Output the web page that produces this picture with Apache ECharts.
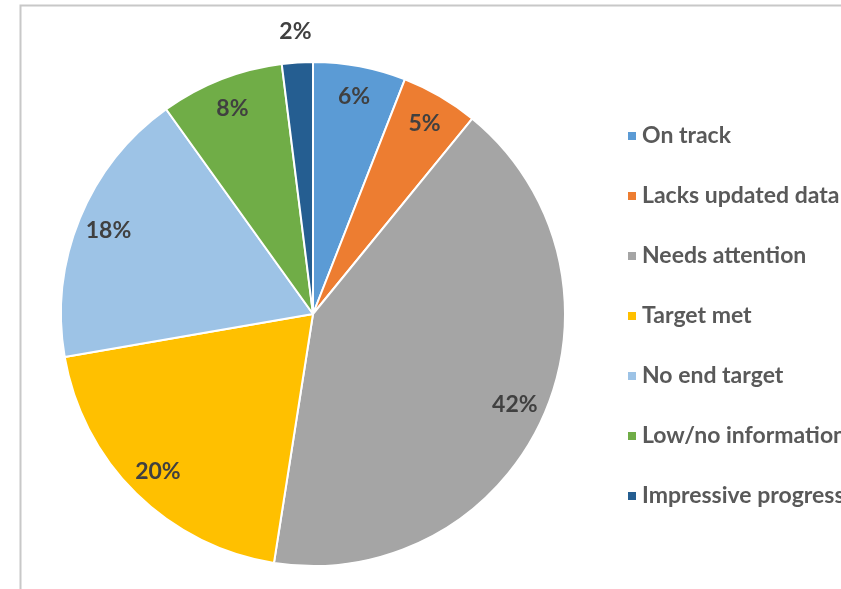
<!DOCTYPE html>
<html><head><meta charset="utf-8">
<script src="https://cdn.jsdelivr.net/npm/echarts@6/dist/echarts.min.js"></script>
<style>html,body{margin:0;padding:0;background:#fff}#c{width:841px;height:589px}</style>
</head><body><div id="c"></div>
<script>
const categories = ['On track','Lacks updated data','Needs attention','Target met','No end target','Low/no information','Impressive progress'];
const values = [6,5,42,20,18,8,2];
const colors = ['#5B9BD5','#ED7D31','#A5A5A5','#FFC000','#9DC3E6','#70AD47','#255E91'];
const outsideLabels = ['Impressive progress'];

const chart = echarts.init(document.getElementById('c'));
const center = [313, 314];
const mainData = categories.map((n,i)=>({name:n, value:values[i], itemStyle:{color:colors[i]}}));
const labelStyle = {fontFamily:'Lato', fontWeight:'bold', fontSize:23, color:'#404040'};
chart.setOption({
  animation:false,
  color: colors,
  graphic:[{type:'rect', silent:true, shape:{x:20.5,y:5.5,width:900,height:700}, style:{fill:'none', stroke:'#C8C8C8', lineWidth:2}}],
  legend:{
    orient:'vertical', left:621, top:119,
    itemWidth:10, itemHeight:10, itemGap:36, icon:'rect',
    textStyle:{fontFamily:'Lato', fontWeight:'bold', fontSize:23, color:'#595959', lineHeight:24},
    data: categories
  },
  series:[
    {type:'pie', center:center, radius:[0,252], startAngle:90, clockwise:true,
     itemStyle:{borderColor:'#fff', borderWidth:2}, label:{show:false}, labelLine:{show:false},
     silent:true, data: mainData},
    {type:'pie', center:center, radius:[184,252], startAngle:90, clockwise:true, legendHoverLink:false,
     itemStyle:{color:'transparent', borderWidth:0}, silent:true, labelLine:{show:false},
     label:{show:true, position:'inside', formatter:p=>outsideLabels.includes(p.name.trim())?'':p.value+'%', ...labelStyle},
     data: categories.map((n,i)=>({name:n+' ', value:values[i]}))},
    {type:'pie', center:center, radius:[266,294], startAngle:90, clockwise:true, legendHoverLink:false,
     itemStyle:{color:'transparent', borderWidth:0}, silent:true, labelLine:{show:false},
     label:{show:true, position:'inside', formatter:p=>outsideLabels.includes(p.name.trim())?p.value+'%':'', ...labelStyle},
     data: categories.map((n,i)=>({name:n+'  ', value:values[i]}))}
  ]
});
</script></body></html>
